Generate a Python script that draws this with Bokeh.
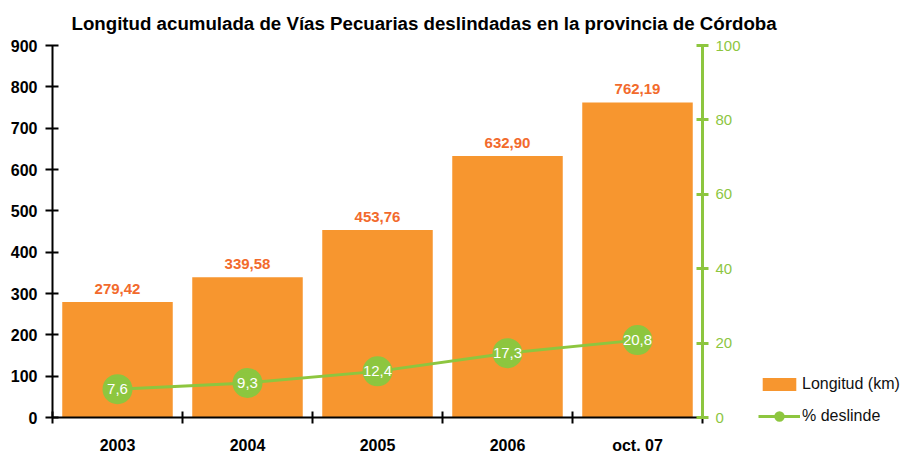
from bokeh.plotting import figure
from bokeh.models import (ColumnDataSource, Range1d, LinearAxis, FixedTicker,
                          Legend, LegendItem, Label)
from bokeh.core.properties import value
from bokeh.embed import file_html
from bokeh.resources import INLINE

# ---- data ----
years = ["2003", "2004", "2005", "2006", "oct. 07"]
longitud_km = [279.42, 339.58, 453.76, 632.90, 762.19]
pct_deslinde = [7.6, 9.3, 12.4, 17.3, 20.8]
longitud_labels = ["279,42", "339,58", "453,76", "632,90", "762,19"]
pct_labels = ["7,6", "9,3", "12,4", "17,3", "20,8"]
left_ticks = [0, 100, 200, 300, 400, 500, 600, 700, 800, 900]
right_ticks = [0, 20, 40, 60, 80, 100]
title_text = "Longitud acumulada de Vías Pecuarias deslindadas en la provincia de Córdoba"

FONT = "Liberation Sans"
ORANGE = "#F7962F"
LABEL_ORANGE = "#F26A2C"
GREEN = "#8DC63F"

# ---- layout (pixels): the frame fills the canvas; the axes are pinned ----
W, H = 906, 455
AX_LEFT, AX_RIGHT = 52, 702      # pixel x of left / right axes
AX_BOTTOM, AX_TOP = 417, 45      # pixel y of value 0 / top value
n = len(years)
LMAX, PMAX = 900, 100

def span(px_lo, px_hi, v_lo, v_hi, total, flip=False):
    # data range that maps the pixel interval [px_lo, px_hi] to [v_lo, v_hi]
    per = (v_hi - v_lo) / (px_hi - px_lo)
    if flip:
        return Range1d(v_lo - (total - px_lo) * per, v_hi + px_hi * per)
    return Range1d(v_lo - px_lo * per, v_hi + (total - px_hi) * per)

x_range = span(AX_LEFT, AX_RIGHT, 0, n, W)
y_range = span(H - AX_BOTTOM, H - AX_TOP, 0, LMAX, H)
pct_range = span(H - AX_BOTTOM, H - AX_TOP, 0, PMAX, H)

xc = [i + 0.5 for i in range(n)]
src = ColumnDataSource(dict(x=xc, y=longitud_km, lab=longitud_labels,
                            p=pct_deslinde, plab=pct_labels))

p = figure(frame_width=W, frame_height=H, output_backend="svg",
           toolbar_location=None, title=None,
           x_range=x_range, y_range=y_range,
           min_border=0, min_border_left=0, min_border_right=0,
           min_border_top=0, min_border_bottom=0,
           outline_line_color=None, tools="", x_axis_location=None,
           y_axis_location=None)
p.xgrid.visible = False
p.ygrid.visible = False
p.extra_y_ranges = {"pct": pct_range}

bars = p.vbar(x="x", top="y", width=0.85, source=src, fill_color=ORANGE,
              line_color=None)
p.text(x="x", y="y", text="lab", source=src, text_align="center",
       text_baseline="bottom", y_offset=-8, text_color=LABEL_ORANGE,
       text_font=value(FONT), text_font_size="15px", text_font_style="bold")

line = p.line(x="x", y="p", source=src, line_color=GREEN, line_width=3,
              y_range_name="pct")
dots = p.scatter(x="x", y="p", source=src, size=26, fill_color=GREEN,
                 line_color=GREEN, line_width=4, y_range_name="pct")
p.text(x="x", y="p", text="plab", source=src, text_align="center",
       text_baseline="middle", text_color="white", text_font=value(FONT),
       text_font_size="15px", y_range_name="pct")

# bottom axis (category boundaries ticked, names centred)
xa = LinearAxis(fixed_location=0, bounds=(0, n),
                ticker=FixedTicker(ticks=xc, minor_ticks=list(range(n + 1))))
xa.major_label_overrides = {x: y for x, y in zip(xc, years)}
xa.major_tick_in = 0
xa.major_tick_out = 0
xa.minor_tick_in = 6
xa.minor_tick_out = 6
xa.minor_tick_line_color = "black"
xa.minor_tick_line_width = 2
xa.axis_line_width = 2
xa.axis_line_color = "black"
xa.major_label_standoff = 13
xa.major_label_text_font = FONT
xa.major_label_text_font_size = "16px"
xa.major_label_text_font_style = "bold"
xa.major_label_text_color = "black"
p.add_layout(xa, "below")

# left axis
ya = LinearAxis(fixed_location=0, bounds=(0, LMAX),
                ticker=FixedTicker(ticks=left_ticks))
ya.minor_tick_line_color = None
ya.major_tick_in = 6
ya.major_tick_out = 7
ya.major_tick_line_width = 2
ya.major_tick_line_color = "black"
ya.axis_line_width = 2
ya.axis_line_color = "black"
ya.major_label_standoff = 8
ya.major_label_text_font = FONT
ya.major_label_text_font_size = "16px"
ya.major_label_text_font_style = "bold"
ya.major_label_text_color = "black"
p.add_layout(ya, "left")

# right axis
ra = LinearAxis(y_range_name="pct", fixed_location=n, bounds=(0, PMAX),
                ticker=FixedTicker(ticks=right_ticks))
ra.minor_tick_line_color = None
ra.major_tick_in = 6
ra.major_tick_out = 6
ra.major_tick_line_width = 3
ra.major_tick_line_color = GREEN
ra.axis_line_width = 3
ra.axis_line_color = GREEN
ra.major_label_standoff = 7
ra.major_label_text_font = FONT
ra.major_label_text_font_size = "15px"
ra.major_label_text_color = GREEN
p.add_layout(ra, "right")

# title
p.add_layout(Label(x=71, y=H - 23, x_units="screen", y_units="screen",
                   text=title_text, text_font=FONT, text_font_size="18.7px",
                   text_font_style="bold", text_color="#000000",
                   text_align="left", text_baseline="alphabetic"))

# legend
leg = Legend(items=[LegendItem(label="Longitud (km)", renderers=[bars]),
                    LegendItem(label="% deslinde", renderers=[line, dots])],
             location=(758, 30), glyph_width=42, glyph_height=16,
             label_standoff=2, padding=0, margin=0, spacing=14,
             border_line_color=None, background_fill_alpha=0,
             label_text_font=FONT, label_text_font_size="16px",
             label_text_color="#111111")
p.add_layout(leg)

open("out.html", "w").write(file_html(p, INLINE))
